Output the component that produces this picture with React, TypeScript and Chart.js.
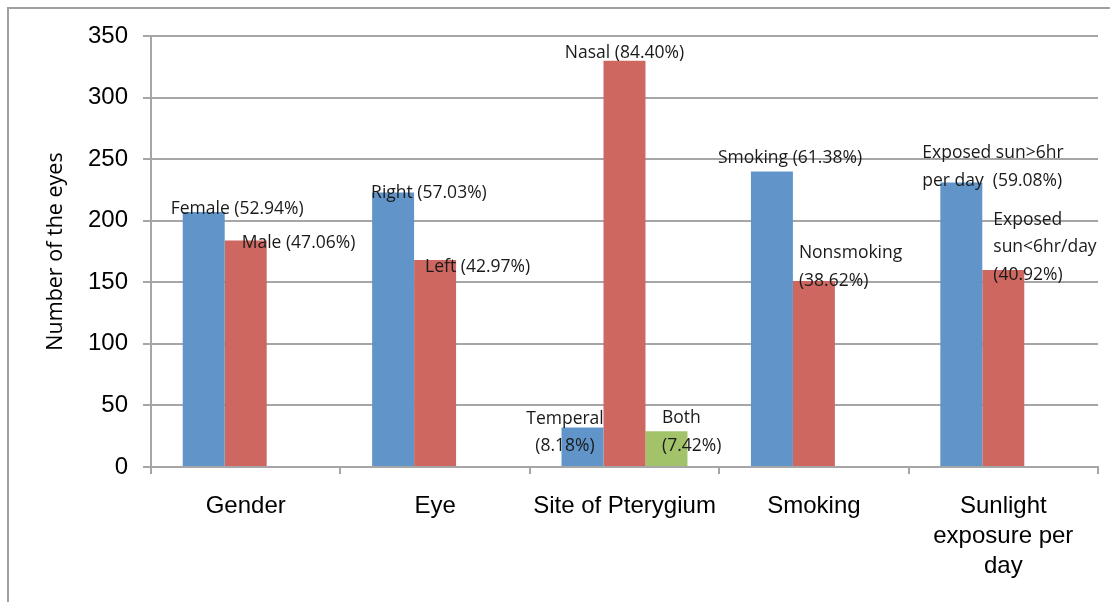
import { useEffect, useRef } from "react";
import { Chart, registerables } from "chart.js";

Chart.register(...registerables);

// ---- data ----
const categories: string[][] = [
  ["Gender"],
  ["Eye"],
  ["Site of Pterygium"],
  ["Smoking"],
  ["Sunlight", "exposure per", "day"],
];
const seriesA: (number | null)[] = [207, 223, 32, 240, 231];
const seriesB: (number | null)[] = [184, 168, 330, 151, 160];
const seriesC: (number | null)[] = [null, null, 29, null, null];

const labelsA: (string[] | null)[] = [
  ["Female (52.94%)"],
  ["Right (57.03%)"],
  ["Temperal", "(8.18%)"],
  ["Smoking (61.38%)"],
  ["Exposed sun>6hr", "per day  (59.08%)"],
];
const labelsB: (string[] | null)[] = [
  ["Male (47.06%)"],
  ["Left (42.97%)"],
  ["Nasal (84.40%)"],
  ["Nonsmoking", "(38.62%)"],
  ["Exposed", "sun<6hr/day", "(40.92%)"],
];
const labelsC: (string[] | null)[] = [null, null, ["Both", "(7.42%)"], null, null];

const yMin = 0;
const yMax = 350;
const yStep = 50;
const yTitle = "Number of the eyes";

// ---- label placement (relative to each bar's centre/top) ----
type Place = { dx: number; dy: number; align: CanvasTextAlign } | null;
const placeA: Place[] = [
  { dx: -33, dy: -3, align: "left" },
  { dx: -22, dy: 1, align: "left" },
  { dx: -17.5, dy: -9, align: "center" },
  { dx: -54, dy: -13, align: "left" },
  { dx: -39, dy: -29.5, align: "left" },
];
const placeB: Place[] = [
  { dx: -4, dy: 3, align: "left" },
  { dx: -10, dy: 7, align: "left" },
  { dx: 0, dy: -8, align: "center" },
  { dx: -15, dy: -28, align: "left" },
  { dx: -10, dy: -50, align: "left" },
];
const placeC: Place[] = [null, null, { dx: -4.5, dy: -13, align: "left" }, null, null];

const allLabels = [labelsA, labelsB, labelsC];
const allPlaces = [placeA, placeB, placeC];

const LABEL_FONT = '17.5px "Open Sans", sans-serif';
const LINE_H = 27.5;

const barLabelPlugin = {
  id: "barLabels",
  afterDatasetsDraw(chart: any) {
    const ctx = chart.ctx as CanvasRenderingContext2D;
    ctx.save();
    ctx.font = LABEL_FONT;
    ctx.fillStyle = "#1a1a1a";
    ctx.textBaseline = "middle";
    chart.data.datasets.forEach((_: any, di: number) => {
      const meta = chart.getDatasetMeta(di);
      meta.data.forEach((el: any, i: number) => {
        const lines = allLabels[di][i];
        const p = allPlaces[di][i];
        if (!lines || !p) return;
        ctx.textAlign = p.align;
        lines.forEach((t, li) => {
          ctx.fillText(t, el.x + p.dx, el.y + p.dy + li * LINE_H);
        });
      });
    });
    ctx.restore();
  },
};

const GRID = "#a6a6a6";

export default function App() {
  const ref = useRef<HTMLCanvasElement>(null);

  useEffect(() => {
    if (!ref.current) return;
    const chart = new Chart(ref.current, {
      type: "bar",
      data: {
        labels: categories,
        datasets: [
          { data: seriesA, backgroundColor: "#6195c9", borderWidth: 0 },
          { data: seriesB, backgroundColor: "#cd6760", borderWidth: 0 },
          { data: seriesC, backgroundColor: "#a3c36b", borderWidth: 0 },
        ],
      },
      options: {
        responsive: false,
        animation: false,
        events: [],
        layout: { padding: { left: 0, top: 36, right: 12, bottom: 0 } },
        plugins: {
          legend: { display: false },
          tooltip: { enabled: false },
          title: { display: false },
        },
        datasets: {
          bar: { categoryPercentage: 0.665, barPercentage: 1 },
        },
        scales: {
          x: {
            offset: true,
            grid: {
              offset: true,
              drawOnChartArea: false,
              drawTicks: true,
              tickLength: 7,
              color: GRID,
              lineWidth: 2,
            },
            border: { display: true, color: GRID, width: 2 },
            ticks: {
              color: "#000",
              padding: 17,
              maxRotation: 0,
              autoSkip: false,
              font: { family: '"Liberation Sans", Arial, sans-serif', size: 24, lineHeight: 1.25 },
            },
            afterFit: (s: any) => {
              s.height = 135;
            },
          },
          y: {
            min: yMin,
            max: yMax,
            grid: {
              color: GRID,
              lineWidth: 2,
              drawTicks: true,
              tickLength: 8,
            },
            border: { display: true, color: GRID, width: 2 },
            ticks: {
              stepSize: yStep,
              color: "#000",
              padding: 15,
              font: { family: '"Liberation Sans", Arial, sans-serif', size: 24 },
            },
            title: {
              display: true,
              text: yTitle,
              color: "#000",
              font: { family: '"Open Sans", sans-serif', size: 21.5 },
              padding: { top: 43, bottom: 0 },
            },
            afterFit: (s: any) => {
              s.width = 151;
            },
          },
        },
      },
      plugins: [barLabelPlugin],
    } as any);
    return () => chart.destroy();
  }, []);

  return (
    <div style={{ position: "absolute", left: 0, top: 0, width: 1110, height: 602, background: "#fff", overflow: "hidden" }}>
      <div
        style={{
          position: "absolute",
          left: 7,
          top: 7,
          width: 1110,
          height: 602,
          borderTop: "2px solid #a0a0a0",
          borderLeft: "2px solid #a0a0a0",
        }}
      />
      <canvas ref={ref} width={1110} height={602} style={{ position: "absolute", left: 0, top: 0, display: "block" }} />
    </div>
  );
}
